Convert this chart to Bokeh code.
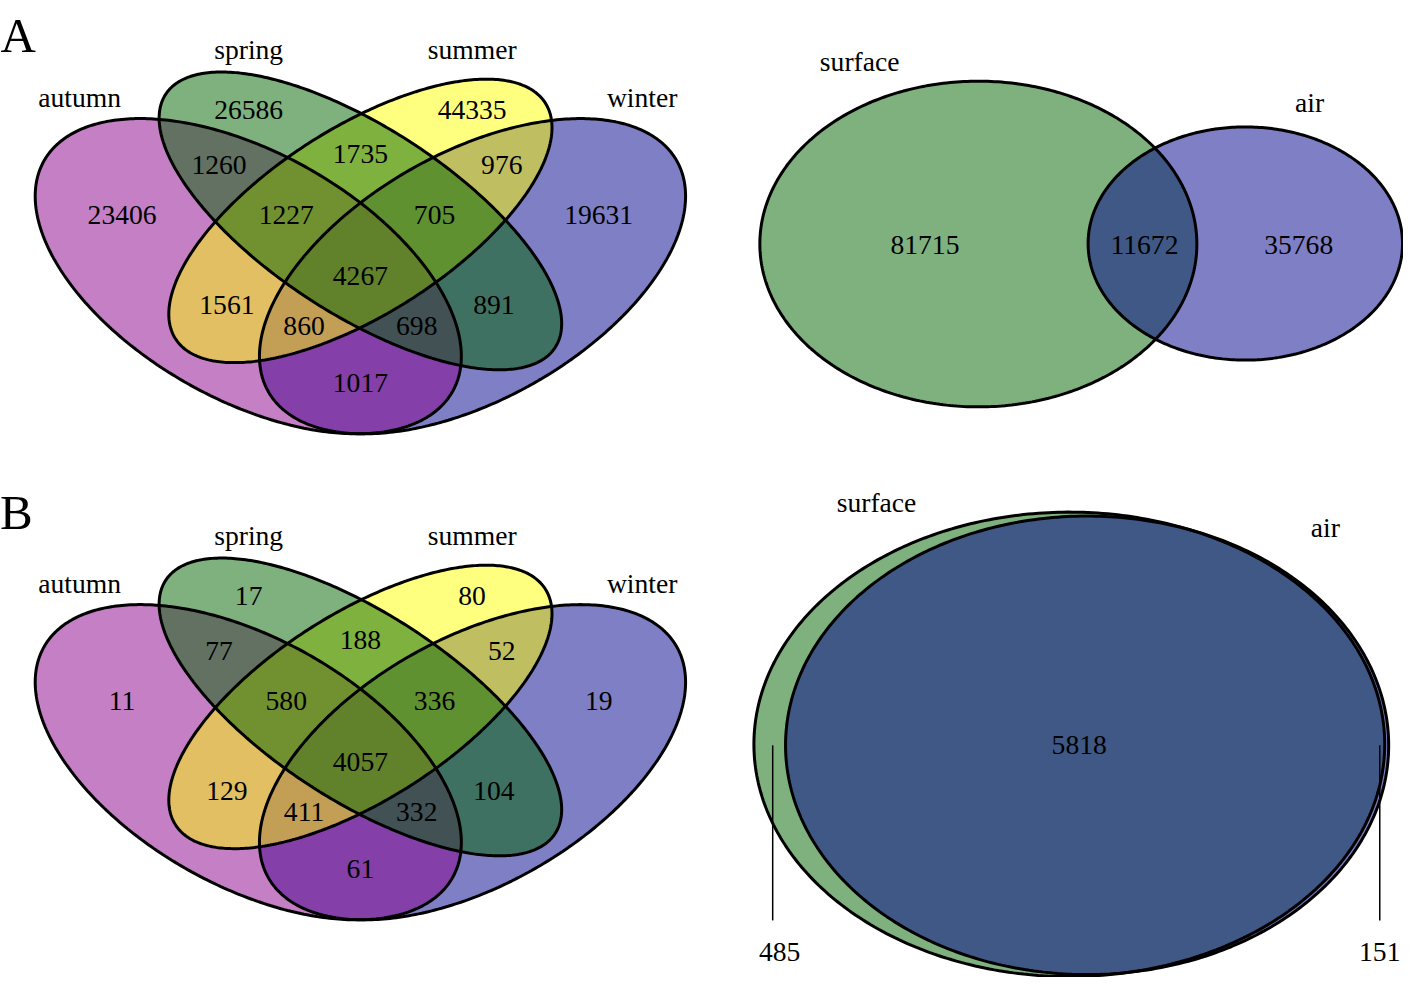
import numpy as np
from bokeh.plotting import figure
from bokeh.models import Range1d
from bokeh.core.properties import value
from bokeh.embed import file_html
from bokeh.resources import INLINE

# ---------------- data ----------------
season_sets = ["autumn", "spring", "summer", "winter"]
season_colors = ["darkmagenta", "darkgreen", "yellow", "darkblue"]
region_names = ["autumn", "spring", "summer", "winter",
                "autumn&spring", "spring&summer", "summer&winter",
                "autumn&summer", "spring&winter", "autumn&winter",
                "autumn&spring&summer", "spring&summer&winter",
                "autumn&summer&winter", "autumn&spring&winter", "all"]
counts_A = [23406, 26586, 44335, 19631, 1260, 1735, 976, 1561, 891, 1017,
            1227, 705, 860, 698, 4267]
counts_B = [11, 17, 80, 19, 77, 188, 52, 129, 104, 61,
            580, 336, 411, 332, 4057]
pair_sets = ["surface", "air"]
pair_colors = ["darkgreen", "darkblue"]
pair_regions = ["surface only", "surface&air", "air only"]
pair_A = [81715, 11672, 35768]
pair_B = [485, 5818, 151]
panel_letters = ["A", "B"]

# ---------------- layout (pixel space of the 1419x993 picture) ----------------
W, H = 1419, 993
FONT = value("Liberation Serif")
FS = "27.6px"

p = figure(width=1403, height=977, output_backend="svg", toolbar_location=None,
           x_range=Range1d(0, W), y_range=Range1d(H, 0), min_border=0)
p.axis.visible = False
p.grid.visible = False
p.outline_line_color = None

# 4-set ellipse geometry (model units) -> pixel mapping
ell = {  # cx, cy, a, b, angle(deg)
    "autumn": (0.35, 0.47, 0.35, 0.20, -45),
    "spring": (0.50, 0.57, 0.35, 0.15, -45),
    "summer": (0.50, 0.57, 0.33, 0.15, 45),
    "winter": (0.65, 0.47, 0.35, 0.20, 45),
}
SX, SY = 756.0, 562.0
X0, Y0 = 364.0, 224.0
t = np.linspace(0, 2 * np.pi, 400)


def quad_ellipse(name, dy):
    cx, cy, a, b, ang = ell[name]
    th = np.radians(ang)
    x = cx + a * np.cos(t) * np.cos(th) - b * np.sin(t) * np.sin(th)
    y = cy + a * np.cos(t) * np.sin(th) + b * np.sin(t) * np.cos(th)
    return list(X0 + (x - 0.5) * SX), list(Y0 - (y - 0.57) * SY + dy)


def plain_ellipse(cx, cy, rx, ry):
    return list(cx + rx * np.cos(t)), list(cy + ry * np.sin(t))


region_pos = {
    "autumn": (123, 218), "spring": (251, 111), "summer": (477, 111),
    "winter": (605, 218), "autumn&spring": (221, 167),
    "spring&summer": (364, 156), "summer&winter": (507, 167),
    "autumn&summer": (229, 309), "spring&winter": (499, 309),
    "autumn&winter": (364, 389), "autumn&spring&summer": (289, 218),
    "spring&summer&winter": (439, 218), "autumn&summer&winter": (307, 331),
    "autumn&spring&winter": (421, 331), "all": (364, 280),
}
set_label_pos = {"autumn": (80, 99), "spring": (251, 50),
                 "summer": (477, 50), "winter": (649, 99)}
draw_order = ["winter", "autumn", "summer", "spring"]

for dy, counts in [(0, counts_A), (494, counts_B)]:
    for nm in draw_order:
        xs, ys = quad_ellipse(nm, dy)
        col = season_colors[season_sets.index(nm)]
        p.patch(xs, ys, fill_color=col, fill_alpha=0.5, line_color=None)
    for nm in season_sets:
        xs, ys = quad_ellipse(nm, dy)
        p.patch(xs + [xs[0]], ys + [ys[0]], fill_alpha=0, line_color="black",
                line_width=3)
    p.text(x=[region_pos[r][0] for r in region_names],
           y=[region_pos[r][1] + dy for r in region_names],
           text=[str(c) for c in counts], text_font=FONT, text_font_size=FS,
           text_align="center", text_baseline="middle", text_color="black")
    p.text(x=[set_label_pos[s][0] for s in season_sets],
           y=[set_label_pos[s][1] + dy for s in season_sets],
           text=season_sets, text_font=FONT, text_font_size=FS,
           text_align="center", text_baseline="middle", text_color="black")

# two-set panels
pairA_geo = [(989, 247.5, 221, 165.5), (1259, 247, 159, 118.5)]
pairB_geo = [(1081, 756, 319, 236), (1099, 757, 305, 233)]
for geo in [pairA_geo, pairB_geo]:
    for (cx, cy, rx, ry), col in zip(geo, pair_colors):
        xs, ys = plain_ellipse(cx, cy, rx, ry)
        p.patch(xs, ys, fill_color=col, fill_alpha=0.5, line_color=None)
    for (cx, cy, rx, ry) in geo:
        xs, ys = plain_ellipse(cx, cy, rx, ry)
        p.patch(xs, ys, fill_alpha=0, line_color="black", line_width=3)

p.text(x=[935, 1157, 1313], y=[248, 248, 248], text=[str(v) for v in pair_A],
       text_font=FONT, text_font_size=FS, text_align="center",
       text_baseline="middle", text_color="black")
p.text(x=[869, 1324], y=[62, 104], text=pair_sets, text_font=FONT,
       text_font_size=FS, text_align="center", text_baseline="middle")

p.text(x=[788, 1091, 1395], y=[967, 757, 967], text=[str(v) for v in pair_B],
       text_font=FONT, text_font_size=FS, text_align="center",
       text_baseline="middle", text_color="black")
p.text(x=[886, 1340], y=[510, 536], text=pair_sets, text_font=FONT,
       text_font_size=FS, text_align="center", text_baseline="middle")
p.segment(x0=[781, 1395], y0=[757, 757], x1=[781, 1395], y1=[935, 935],
          line_color="black", line_width=1.5)

# panel letters
p.text(x=[18, 16], y=[36, 520], text=panel_letters, text_font=FONT,
       text_font_size="49px", text_align="center", text_baseline="alphabetic")

open("out.html", "w").write(file_html(p, INLINE))
